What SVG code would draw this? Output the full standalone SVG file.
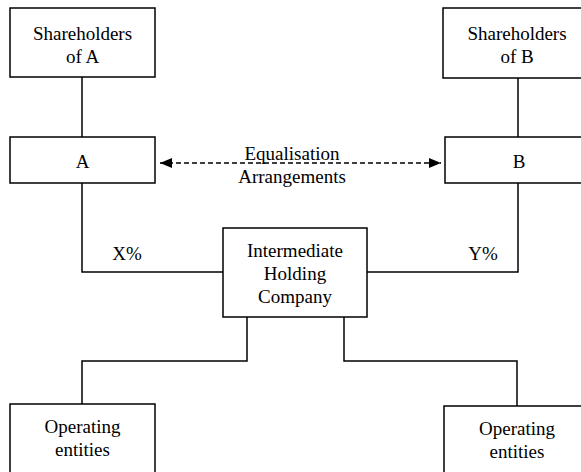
<svg xmlns="http://www.w3.org/2000/svg" width="581" height="472" viewBox="0 0 581 472">
<style>
.box{fill:#fff;stroke:#000;stroke-width:1.5}
.ln{fill:none;stroke:#000;stroke-width:1.5}
.dash{fill:none;stroke:#000;stroke-width:1.3;stroke-dasharray:5 3}
.t{font-family:'Liberation Serif','DejaVu Serif',serif;font-size:19px;fill:#000;text-anchor:middle}
</style>
<defs>
<marker id="ah" viewBox="0 0 12 10" refX="12" refY="5" markerWidth="13" markerHeight="10" markerUnits="userSpaceOnUse" orient="auto-start-reverse">
<path d="M0,0 L12,5 L0,10 z" fill="#000"/>
</marker>
</defs>
<rect width="581" height="472" fill="#fff"/>
<g id="connectors">
<path class="ln" d="M82,77 V137"/>
<path class="ln" d="M518,78 V137"/>
<path class="ln" d="M82,183 V272 H223"/>
<path class="ln" d="M518,183 V272 H367"/>
<path class="ln" d="M247,317 V361 H82 V404"/>
<path class="ln" d="M344,317 V361 H517 V406"/>
<path class="dash" d="M160,163 H441" marker-start="url(#ah)" marker-end="url(#ah)"/>
<text class="t" x="292" y="160" font-family="Liberation Serif, serif">Equalisation</text>
<text class="t" x="292" y="183" font-family="Liberation Serif, serif">Arrangements</text>
<text class="t" x="127" y="260" font-family="Liberation Serif, serif">X%</text>
<text class="t" x="483" y="260" font-family="Liberation Serif, serif">Y%</text>
</g>
<g id="shA" font-family="Liberation Serif, serif">
<rect class="box" x="10" y="8" width="145" height="69"/>
<text class="t" x="82.5" y="40">Shareholders</text>
<text class="t" x="82.5" y="63">of A</text>
</g>
<g id="shB">
<rect class="box" x="443" y="8" width="150" height="70"/>
<text class="t" x="517" y="40">Shareholders</text>
<text class="t" x="517" y="63">of B</text>
</g>
<g id="A">
<rect class="box" x="10" y="137" width="145" height="46"/>
<text class="t" x="82.5" y="168">A</text>
</g>
<g id="B">
<rect class="box" x="445" y="137" width="148" height="46"/>
<text class="t" x="519" y="168">B</text>
</g>
<g id="ihc">
<rect class="box" x="223" y="228" width="144" height="89"/>
<text class="t" x="295" y="257">Intermediate</text>
<text class="t" x="295" y="280">Holding</text>
<text class="t" x="295" y="303">Company</text>
</g>
<g id="opA">
<rect class="box" x="10" y="404" width="145" height="80"/>
<text class="t" x="82.5" y="433">Operating</text>
<text class="t" x="82.5" y="456">entities</text>
</g>
<g id="opB">
<rect class="box" x="444" y="406" width="150" height="80"/>
<text class="t" x="517" y="435">Operating</text>
<text class="t" x="517" y="458">entities</text>
</g>
</svg>
